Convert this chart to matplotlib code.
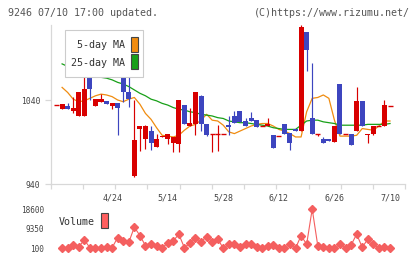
import numpy as np
import matplotlib
matplotlib.use("Agg")
import matplotlib.pyplot as plt
from matplotlib.patches import Rectangle

# daily prices (index 0 = first candle)
opens = [1034, 1029, 1033, 1027, 1021, 1021, 1070, 1033, 1038, 1039,
         1033, 1036, 1071, 1050, 950, 1006, 994, 1003, 984, 996,
         994, 989, 988, 1034, 1009, 1012, 1045, 1012, 999, 999,
         999, 1010, 1021, 1027, 1015, 1019, 1016, 1009, 1009, 998,
         997, 1011, 1001, 1005, 1003, 1121, 1018, 999, 993, 994,
         990, 1059, 999, 999, 1003, 1039, 998, 1000, 1009, 1009, 1033]
highs = [1034, 1035, 1036, 1044, 1050, 1100, 1070, 1041, 1047, 1039,
         1036, 1036, 1071, 1090, 1040, 1009, 1010, 1009, 1000, 997,
         999, 996, 1040, 1034, 1030, 1050, 1046, 1012, 999, 1010,
         999, 1021, 1027, 1027, 1019, 1026, 1016, 1009, 1019, 998,
         997, 1011, 1001, 1005, 1129, 1121, 1084, 999, 996, 994,
         1009, 1059, 999, 999, 1056, 1039, 1000, 1009, 1009, 1040, 1033]
lows = [1034, 1029, 1029, 1024, 1021, 1021, 1040, 1033, 1038, 1035,
        1029, 998, 1038, 1032, 948, 979, 982, 980, 984, 996,
        988, 978, 978, 1011, 1009, 998, 1003, 997, 978, 979,
        999, 998, 1013, 1014, 1009, 1015, 1008, 1009, 1009, 983,
        997, 999, 980, 1003, 1003, 1075, 999, 997, 989, 991,
        990, 999, 999, 986, 1003, 1009, 989, 998, 1009, 1009, 1033]
closes = [1034, 1035, 1029, 1031, 1050, 1053, 1053, 1041, 1041, 1035,
          1036, 1031, 1049, 1041, 992, 1009, 1009, 989, 994, 997,
          999, 996, 1040, 1011, 1013, 1050, 1012, 998, 999, 999,
          999, 1008, 1013, 1014, 1009, 1015, 1008, 1009, 1012, 983,
          997, 999, 989, 1003, 1127, 1099, 999, 999, 989, 991,
          1009, 999, 999, 986, 1039, 1009, 1000, 1009, 1009, 1034, 1033]

ma5 = [np.nan, 1055, 1049, 1041, 1038, 1039, 1042, 1045, 1047, 1046,
       1044, 1040, 1038, 1041, 1043, 1035, 1024, 1017, 1007, 998,
       997, 996, 998, 1004, 1009, 1011, 1016, 1023, 1016, 1015,
       1010, 1002, 1000, 1003, 1006, 1009, 1011, 1012, 1012, 1009,
       1005, 1003, 1000, 996, 996, 1026, 1042, 1043, 1046, 1042,
       1016, 997, 997, 997, 998, 1006, 1005, 1004, 1009, 1015, 1015]
ma25 = [np.nan, 1083, 1080, 1078, 1076, 1074, 1072, 1070, 1067, 1066,
        1064, 1061, 1059, 1056, 1052, 1048, 1045, 1041, 1039, 1036,
        1034, 1031, 1029, 1028, 1026, 1025, 1023, 1022, 1021, 1019,
        1018, 1015, 1014, 1013, 1013, 1012, 1011, 1010, 1009, 1007,
        1006, 1005, 1005, 1005, 1010, 1015, 1016, 1016, 1014, 1013,
        1012, 1010, 1010, 1010, 1010, 1010, 1011, 1011, 1011, 1011, 1012]

# volume from the second candle on
volume = [100, 400, 1660, 860, 4000, 400, 100, 100, 860, 400,
          5130, 3560, 2940, 10060, 6080, 1330, 2000, 1330, 400, 2470,
          3560, 6740, 400, 2470, 4840, 3230, 5600, 3230, 4510, 100,
          2000, 2000, 570, 2000, 2000, 860, 100, 1330, 1660, 100,
          400, 2000, 100, 6080, 2000, 18600, 1330, 860, 100, 100,
          2140, 100, 1660, 6740, 570, 4370, 2000, 100, 570, 100]

date_pos = [10, 20, 30, 40, 50, 60]
date_labels = ['4/24', '5/14', '5/28', '6/12', '6/26', '7/10']
price_ticks = [940, 1040]
vol_ticks = [100, 9350, 18600]

RED = '#d80000'
BLUE = '#3d45bf'
ORANGE = '#f08c10'
GREEN = '#18a018'
VOLC = '#f45f5f'
GRID = '#d8d8d8'
MONO = 'DejaVu Sans Mono'

W, H = 420, 259
def box(x0, y0, x1, y1):
    return [x0 / W, 1 - y1 / H, (x1 - x0) / W, (y1 - y0) / H]

fig = plt.figure(figsize=(4.2, 2.59), dpi=100)
ax = fig.add_axes(box(50.7, 25, 405.3, 184))
axv = fig.add_axes(box(50.7, 205, 405.3, 252))

o = np.array(opens, float); c = np.array(closes, float)
hi = np.array(highs, float); lo = np.array(lows, float)
idx = np.arange(len(o))
up = c >= o
cols = np.where(up, RED, BLUE)

ax.plot(idx, ma5, color=ORANGE, lw=0.9, zorder=2)
ax.plot(idx, ma25, color=GREEN, lw=0.9, zorder=2)
ax.vlines(idx, lo, hi, colors=cols, lw=0.85, zorder=3)
body = np.abs(c - o)
ax.bar(idx, body, bottom=np.minimum(o, c), width=0.9, color=cols,
       linewidth=0, zorder=4)
doji = body < 0.5
ax.hlines(c[doji], idx[doji] - 0.45, idx[doji] + 0.45, colors=RED,
          lw=1.0, zorder=4)

xmin, xmax = -1.05, 62.75
ax.set_xlim(xmin, xmax)
ax.set_ylim(940, 1129.3)
for s in ['top', 'right']:
    ax.spines[s].set_visible(False)
for s in ['left', 'bottom']:
    ax.spines[s].set_color(GRID)
    ax.spines[s].set_linewidth(0.9)
ax.set_xticks([])
ax.set_xticks(np.linspace(xmin, xmax, 12), minor=True)
ax.tick_params(axis='x', which='minor', length=3.8, color=GRID, width=0.9)
ax.set_yticks(price_ticks)
ax.set_yticklabels([str(t) for t in price_ticks], fontfamily=MONO,
                   fontsize=5.8, color='#444444')
ax.tick_params(axis='y', length=4, color=GRID, width=0.9, pad=3.5)
for p, lab in zip(date_pos, date_labels):
    ax.text(p, -0.088, lab, transform=ax.get_xaxis_transform(),
            ha='center', va='center', fontfamily=MONO, fontsize=6,
            color='#444444')

axv.plot(idx[1:], volume, color=VOLC, lw=0.8, marker='D', ms=3.6,
         mfc=VOLC, mec=VOLC)
axv.set_xlim(xmin, xmax)
axv.set_ylim(-1642, 20483)
axv.set_xticks([])
axv.set_yticks(vol_ticks)
axv.set_yticklabels([str(t) for t in vol_ticks], fontfamily=MONO,
                    fontsize=5.6, color='#444444')
axv.tick_params(axis='y', length=0, pad=4.8)
for s in axv.spines.values():
    s.set_visible(False)
axv.patch.set_alpha(0)

# overlay in pixel coordinates for header and legends
ov = fig.add_axes([0, 0, 1, 1])
ov.set_xlim(0, W); ov.set_ylim(H, 0)
ov.axis('off')
ov.text(8.3, 12.5, '9246 07/10 17:00 updated.', fontfamily=MONO,
        fontsize=7.2, color='#555555', va='center', ha='left')
ov.text(410, 12.5, '(C)https://www.rizumu.net/', fontfamily=MONO,
        fontsize=7.2, color='#555555', va='center', ha='right')
ov.add_patch(Rectangle((65, 30), 78.3, 47.3, fc='white', ec='#cccccc', lw=0.8))
ov.text(125, 45.5, '5-day MA', fontfamily=MONO, fontsize=7.2,
        color='#333333', va='center', ha='right')
ov.text(125, 62.5, '25-day MA', fontfamily=MONO, fontsize=7.2,
        color='#333333', va='center', ha='right')
ov.add_patch(Rectangle((131, 37.3), 6.7, 15, fc=ORANGE, ec='#444444', lw=0.8))
ov.add_patch(Rectangle((131, 54.3), 6.7, 15, fc=GREEN, ec='#444444', lw=0.8))
ov.text(59, 222, 'Volume', fontfamily=MONO, fontsize=7.2, color='#333333',
        va='center', ha='left')
ov.add_patch(Rectangle((101, 213.3), 6.7, 15, fc='#ff5f5f', ec='#444444', lw=0.8))

fig.savefig('out.png', dpi=100)
